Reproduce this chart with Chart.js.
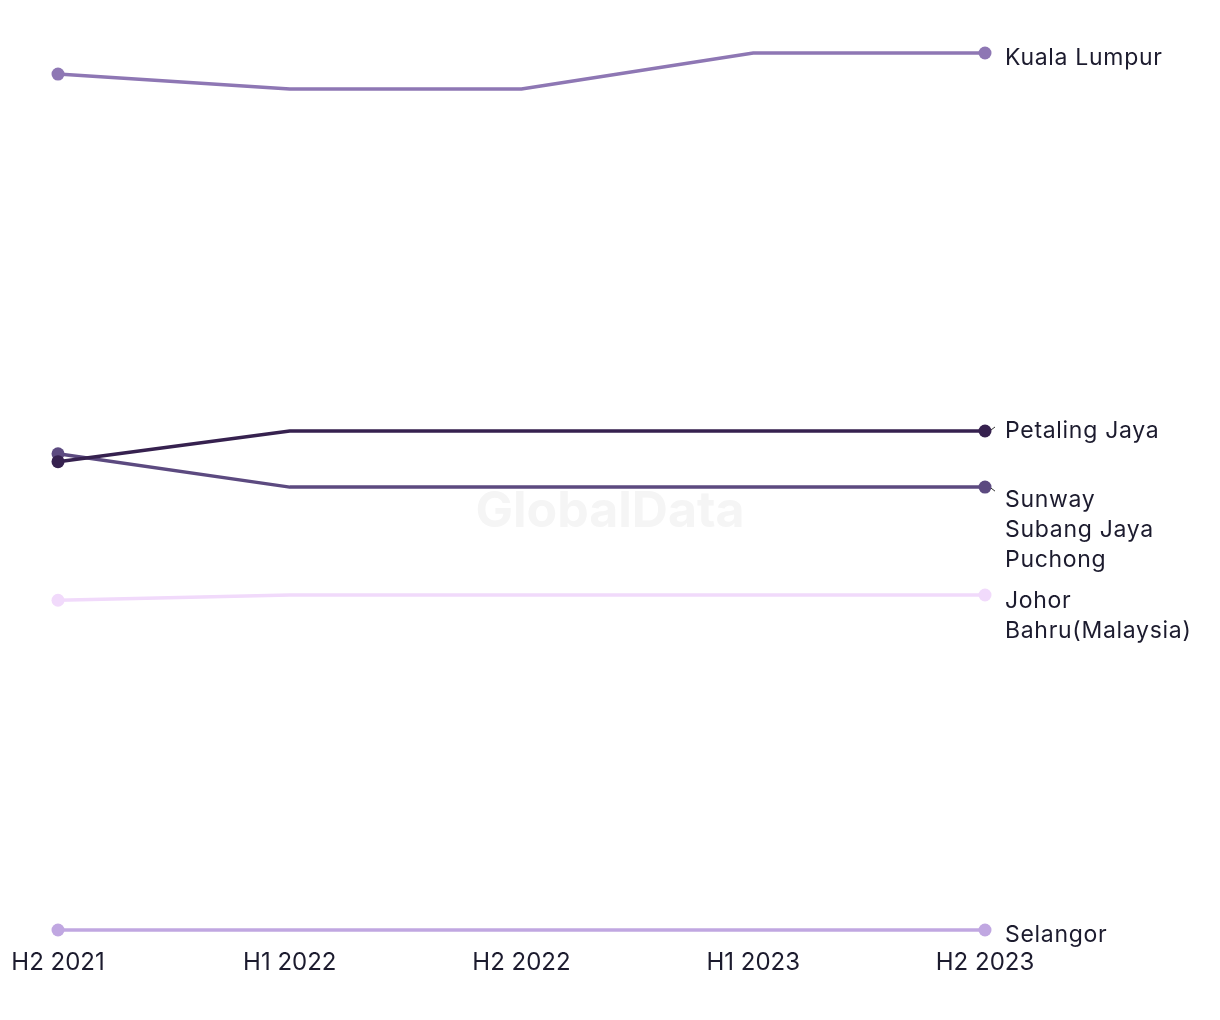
<!DOCTYPE html>
<html>
<head>
<meta charset="utf-8">
<script src="https://cdn.jsdelivr.net/npm/chart.js@4.4.0/dist/chart.umd.min.js"></script>
<style>
  html, body { margin: 0; padding: 0; background: #fff; }
  #chart { display: block; }
</style>
</head>
<body>
<canvas id="chart" width="1220" height="1020"></canvas>
<script>
const periods = ['H2 2021', 'H1 2022', 'H2 2022', 'H1 2023', 'H2 2023'];

const kualaLumpur = [97.6, 95.9, 95.9, 100, 100];
const petalingJaya = [53.4, 56.9, 56.9, 56.9, 56.9];
const sunwaySubangPuchong = [54.3, 50.5, 50.5, 50.5, 50.5];
const johorBahru = [37.6, 38.2, 38.2, 38.2, 38.2];
const selangor = [0, 0, 0, 0, 0];

const seriesNames = [
  ['Kuala Lumpur'],
  ['Petaling Jaya'],
  ['Sunway', 'Subang Jaya', 'Puchong'],
  ['Johor', 'Bahru(Malaysia)'],
  ['Selangor']
];

const colors = ['#8e77b4', '#36214f', '#5c4a80', '#f1dafb', '#c0a7e1'];
// vertical nudge of each end label so they don't collide
const labelShift = [5, 0, 13, 6, 5];
// draw order: smaller on top
const drawOrder = [2, 0, 1, 2, 2];

const textColor = '#1c1b2e';
const fontFamily = 'Inter, "Noto Sans", sans-serif';

const endLabels = {
  id: 'endLabels',
  beforeDatasetsDraw(chart) {
    const { ctx } = chart;
    ctx.save();
    ctx.font = 'bold 50px ' + fontFamily;
    ctx.fillStyle = '#f5f5f5';
    ctx.textAlign = 'center';
    ctx.textBaseline = 'middle';
    ctx.fillText('GlobalData', 610, 512);
    ctx.restore();
  },
  afterDatasetsDraw(chart) {
    const { ctx } = chart;
    ctx.save();
    ctx.font = '23px ' + fontFamily;
    ctx.letterSpacing = '0.7px';
    ctx.fillStyle = textColor;
    ctx.textAlign = 'left';
    ctx.textBaseline = 'middle';
    chart.data.datasets.forEach((ds, i) => {
      const meta = chart.getDatasetMeta(i);
      const pt = meta.data[meta.data.length - 1];
      const x = pt.x + 20;
      const y = pt.y + labelShift[i];
      if (Math.abs(labelShift[i]) > 8 || i === 1) {
        const dir = i === 1 ? -1 : 1;
        ctx.strokeStyle = '#333';
        ctx.lineWidth = 1;
        ctx.beginPath();
        ctx.moveTo(pt.x + 6, pt.y + dir * 1);
        ctx.lineTo(pt.x + 10, pt.y + dir * 4);
        ctx.stroke();
      }
      seriesNames[i].forEach((line, j) => {
        ctx.fillText(line, x, y + j * 30);
      });
    });
    ctx.restore();
  }
};

const series = [kualaLumpur, petalingJaya, sunwaySubangPuchong, johorBahru, selangor];

new Chart(document.getElementById('chart'), {
  type: 'line',
  data: {
    labels: periods,
    datasets: series.map((values, i) => ({
      label: seriesNames[i].join(' '),
      data: values,
      order: drawOrder[i],
      borderColor: colors[i],
      backgroundColor: colors[i],
      pointBackgroundColor: colors[i],
      pointBorderWidth: 0,
      pointRadius: c => (c.dataIndex === 0 || c.dataIndex === values.length - 1) ? 6.5 : 0,
      pointHoverRadius: 0,
      borderWidth: 3.5,
      tension: 0,
      clip: false
    }))
  },
  options: {
    responsive: false,
    animation: false,
    layout: { padding: { left: 58, right: 235, top: 53, bottom: 0 } },
    plugins: {
      legend: { display: false },
      tooltip: { enabled: false }
    },
    scales: {
      x: {
        offset: false,
        grid: { display: false, drawTicks: false },
        border: { display: false },
        ticks: {
          color: textColor,
          font: { family: fontFamily, size: 24 },
          padding: 18,
          maxRotation: 0
        },
        afterFit(scale) {
          scale.height = 90;
          scale.paddingLeft = 0;
          scale.paddingRight = 0;
        }
      },
      y: {
        display: false,
        min: 0,
        max: 100
      }
    }
  },
  plugins: [endLabels]
});
</script>
</body>
</html>
